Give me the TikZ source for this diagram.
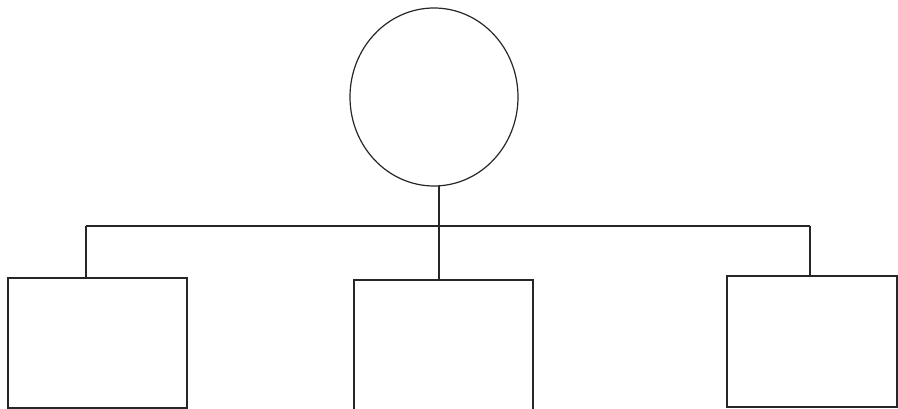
\documentclass[tikz,border=0pt]{standalone}
\usetikzlibrary{shapes.geometric}
\begin{document}
\begin{tikzpicture}[x=1pt,y=-1pt,
  ln/.style={draw=black!85,line width=1.2pt},
  boxnode/.style={ln,rectangle,inner sep=0pt,outer sep=0pt},
  circnode/.style={ln,ellipse,inner sep=0pt,outer sep=0pt}]
\useasboundingbox[fill=white] (0,0) rectangle (898,409);
\node[circnode,minimum width=168pt,minimum height=178pt] (c) at (434,97) {};
\node[boxnode,minimum width=179pt,minimum height=130pt] (b1) at (97.5,343) {};
\node[boxnode,minimum width=179pt,minimum height=134pt] (b2) at (443.5,347) {};
\node[boxnode,minimum width=170pt,minimum height=131pt] (b3) at (812,341.5) {};
\coordinate (bl) at (86,226);
\coordinate (bm) at (439,226);
\coordinate (br) at (810,226);
\draw[ln] (bl) -- (br);
\draw[ln] (c.south -| bm) -- (bm) -- (bm |- b2.north);
\draw[ln] (bl) -- (bl |- b1.north);
\draw[ln] (br) -- (br |- b3.north);
\end{tikzpicture}
\end{document}
